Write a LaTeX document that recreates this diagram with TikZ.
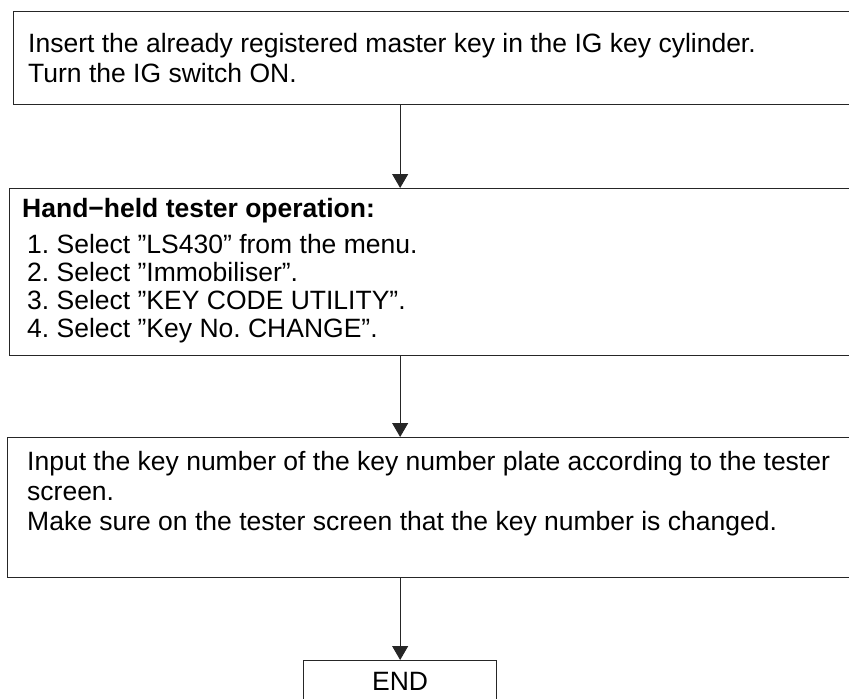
\documentclass[tikz,border=0pt]{standalone}
\usepackage{fontspec}
\setmainfont{Liberation Sans}
\usetikzlibrary{arrows.meta}
\frenchspacing

\tikzset{
  stepbox/.style={draw=black!85, line width=1.3pt, rectangle, anchor=north west, inner sep=0pt},
  steptext/.style={anchor=base west, inner sep=0pt},
  flowarrow/.style={draw=black!85, line width=1pt, -{Triangle[length=14pt,width=16pt]}}
}

\begin{document}
\begin{tikzpicture}[x=1pt,y=-1pt,font=\fontsize{26.5}{29.5}\selectfont]
    \useasboundingbox (0,0) rectangle (849,699);

    % boxes (open to the right, cut by the page)
    \node[stepbox, minimum width=880pt, minimum height=93pt]  (insertbox) at (13,11) {};
    \node[stepbox, minimum width=880pt, minimum height=167pt] (testerbox) at (9,188) {};
    \node[stepbox, minimum width=880pt, minimum height=140pt] (inputbox)  at (7,437) {};
    \node[stepbox, minimum width=193pt, minimum height=60pt]  (endbox)    at (303,660) {};

    % texts
    \node[steptext] (insertA) at (28,52.5) {Insert the already registered master key in the IG key cylinder.};
    \node[steptext] (insertB) at (28,82) {Turn the IG switch ON.};

    \node[steptext] (testerhead) at (22,217) {\bfseries Hand−held tester operation:};
    \node[steptext] (testerA) at (27,253) {1. Select ”LS430” from the menu.};
    \node[steptext] (testerB) at (27,281) {2. Select ”Immobiliser”.};
    \node[steptext] (testerC) at (27,309) {3. Select ”KEY CODE UTILITY”.};
    \node[steptext] (testerD) at (27,337) {4. Select ”Key No. CHANGE”.};

    \node[steptext] (inputA) at (27,470) {Input the key number of the key number plate according to the tester};
    \node[steptext] (inputB) at (27,500) {screen.};
    \node[steptext] (inputC) at (27,530) {Make sure on the tester screen that the key number is changed.};

    \node[anchor=base, inner sep=0pt] (endtext) at (endbox.north |- 0,690) {END};

    % arrows
    \draw[flowarrow] (insertbox.south -| endbox.north) -- (testerbox.north -| endbox.north);
    \draw[flowarrow] (testerbox.south -| endbox.north) -- (inputbox.north -| endbox.north);
    \draw[flowarrow] (inputbox.south -| endbox.north) -- (endbox.north);
\end{tikzpicture}
\end{document}
